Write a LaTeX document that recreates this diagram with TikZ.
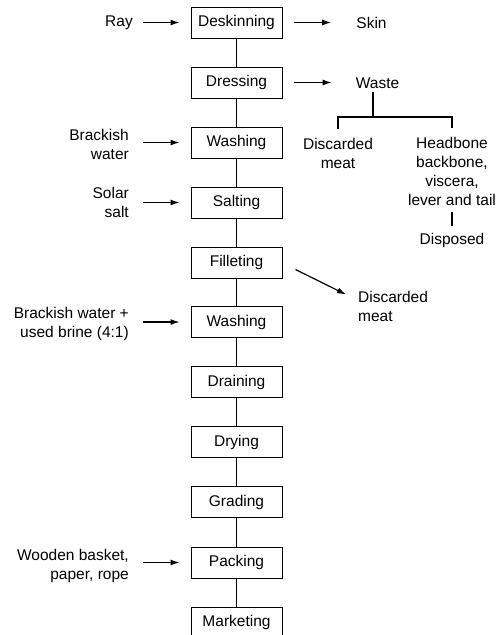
\documentclass[tikz,border=0pt]{standalone}
\usepackage{fontspec}
\setmainfont{Liberation Sans}
\usetikzlibrary{arrows.meta,calc}
\begin{document}
\begin{tikzpicture}[x=1pt,y=-1pt,
  every node/.style={font=\fontsize{15.5}{19}\selectfont},
  proc/.style={draw, line width=1pt, minimum width=91pt, minimum height=31pt, inner sep=0pt},
  lbl/.style={inner sep=0pt},
  link/.style={line width=1.4pt},
  flow/.style={line width=1.2pt, -{Latex[length=9pt,width=6pt]}},
  tree/.style={line width=1.4pt}]
\useasboundingbox (0,0) rectangle (501,635);
% process boxes
\node[proc] (desk) at (236.5,22.5) {Deskinning};
\node[proc] (dress) at (236.5,82.5) {Dressing};
\node[proc] (wash1) at (236.5,142.5) {Washing};
\node[proc] (salt) at (236.5,202.5) {Salting};
\node[proc] (fill) at (236.5,262.5) {Filleting};
\node[proc] (wash2) at (236.5,322) {Washing};
\node[proc] (drain) at (236.5,382) {Draining};
\node[proc] (dry) at (236.5,442) {Drying};
\node[proc] (grade) at (236.5,502) {Grading};
\node[proc] (pack) at (236.5,562.5) {Packing};
\node[proc] (market) at (236.5,622.5) {Marketing};
\foreach \a/\b in {desk/dress,dress/wash1,wash1/salt,salt/fill,fill/wash2,wash2/drain,drain/dry,dry/grade,grade/pack,pack/market}
  \draw[link] (\a.south) -- (\b.north);
% inputs
\node[lbl, anchor=east] (ray) at (133,23) {Ray};
\node[lbl, anchor=east, align=right] (bw) at (129,144) {Brackish\\water};
\node[lbl, anchor=east, align=right] (ss) at (129,202.5) {Solar\\salt};
\node[lbl, anchor=east, align=right] (bb) at (129,324) {Brackish water +\\used brine (4:1)};
\node[lbl, anchor=east, align=right] (wb) at (129,565.5) {Wooden basket,\\paper, rope};
\draw[flow, shorten <=10pt, shorten >=11pt] (ray.east |- desk.west) -- (desk.west);
\draw[flow, shorten <=14pt, shorten >=11pt] (bw.east |- wash1.west) -- (wash1.west);
\draw[flow, shorten <=14pt, shorten >=11pt] (ss.east |- salt.west) -- (salt.west);
\draw[flow, shorten <=14pt, shorten >=11pt] (bb.east |- wash2.west) -- (wash2.west);
\draw[flow, shorten <=14pt, shorten >=11pt] (wb.east |- pack.west) -- (pack.west);
% outputs
\node[lbl] (skin) at (371.5,23) {Skin};
\node[lbl] (waste) at (377.5,83) {Waste};
\draw[flow, shorten <=11pt, shorten >=25pt] (desk.east) -- (desk.east -| skin.west);
\draw[flow, shorten <=11pt, shorten >=24pt] (dress.east) -- (dress.east -| waste.west);
% waste tree
\node[lbl, align=center] (dm1) at (338,153) {Discarded\\meat};
\node[lbl, align=center] (hb) at (452,171.5) {Headbone\\backbone,\\viscera,\\lever and tail};
\node[lbl] (disp) at (452,240) {Disposed};
\coordinate (br) at (373,117);
\draw[tree] ($(waste.south -| br)+(0,3)$) -- (br);
\draw[tree] ($(dm1.north)+(0,-9)$) |- (br) -| ($(hb.north)+(0,-9)$);
\draw[tree] ($(hb.south)+(0,6)$) -- ($(disp.north)+(0,-7)$);
% filleting waste
\node[lbl, align=left, anchor=west] (dm2) at (358,306) {Discarded\\meat};
\draw[flow] ($(fill.east)+(13,7)$) -- ($(dm2.west)+(-12,-11.5)$);
\end{tikzpicture}
\end{document}
